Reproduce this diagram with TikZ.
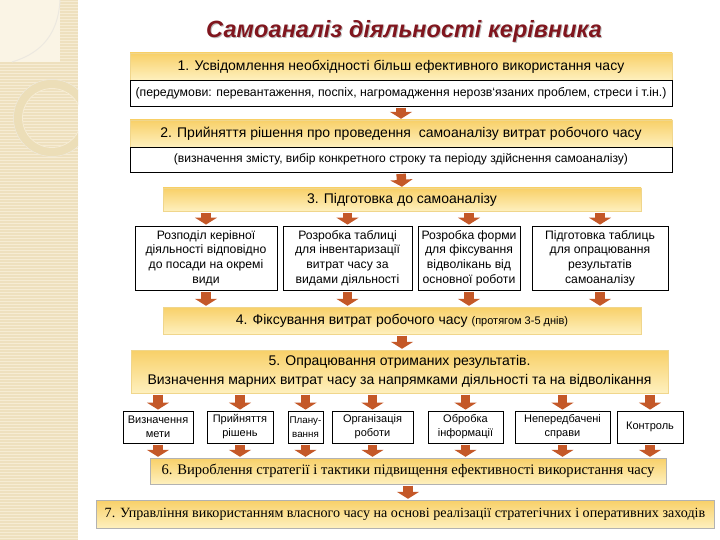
\documentclass[tikz,border=0pt]{standalone}
\usepackage{fontspec}
\setmainfont{Liberation Serif}
\setsansfont{Liberation Sans}
\usetikzlibrary{arrows.meta,calc}

\begin{document}
\begin{tikzpicture}[x=1pt,y=-1pt,
  goldbox/.style={rectangle,top color=goldtop,bottom color=goldbot,draw=goldedge,
    line width=0.4pt,inner sep=0pt,align=center,font=\sffamily\fontsize{14}{16}\selectfont},
  notebox/.style={rectangle,fill=white,draw=black,line width=0.8pt,inner sep=0pt,
    align=center,font=\sffamily\fontsize{12.2}{14.8}\selectfont},
  smallbox/.style={notebox,font=\sffamily\fontsize{11}{14}\selectfont},
  fatarrow/.style={draw=arrowcol,line width=9.5pt,-{Triangle[width=22pt,length=7pt]},
    shorten <=1.5pt,shorten >=1pt}
]

  % Define colors
  \definecolor{goldtop}{RGB}{248,208,104}
  \definecolor{goldbot}{RGB}{254,240,190}
  \definecolor{goldedge}{RGB}{240,214,140}
  \definecolor{arrowcol}{RGB}{196,88,40}
  \definecolor{titlecol}{RGB}{128,22,30}
  \definecolor{stripbg}{RGB}{238,224,190}
  \definecolor{stripline}{RGB}{246,236,212}
  \definecolor{ringcol}{RGB}{236,222,184}

  \useasboundingbox (0,0) rectangle (720,540);
  \fill[white] (0,0) rectangle (720,540);

  % decorative strip on the left
  \begin{scope}
    \clip (0,0) rectangle (78,540);
    \fill[stripbg] (0,0) rectangle (78,540);
    \foreach \y in {1.5,4.5,...,540}
      \draw[stripline,line width=0.9pt] (0,\y) -- (78,\y);
    \fill[stripline!60!white] (0,0) rectangle (60,62);
    \draw[stripbg!80!black!30!white,line width=1pt] (60,0) .. controls (58,40) and (35,55) .. (12,62);
    \draw[ringcol,line width=9pt] (52,118) circle (34);
    \draw[stripbg!90!black!40!white,line width=0.5pt] (52,118) circle (38.5);
    \draw[stripline,line width=0.8pt] (52,118) circle (29.5);
  \end{scope}

  % title with shadow
  \node[font=\sffamily\bfseries\itshape\fontsize{23.5}{26}\selectfont,text=black!25]
    (titleshadow) at (405,32) {Самоаналіз діяльності керівника};
  \node[font=\sffamily\bfseries\itshape\fontsize{23.5}{26}\selectfont,text=titlecol]
    (title) at (404,31) {Самоаналіз діяльності керівника};

  % stage 1 and 2
  \node[goldbox,minimum width=542,minimum height=27] (stage1) at (401,66.5)
    {1. Усвідомлення необхідності більш ефективного використання часу};
  \node[notebox,font=\sffamily\fontsize{12.3}{14}\selectfont,minimum width=542,minimum height=26]
    (note1) at (401,93)
    {(передумови: перевантаження, поспіх, нагромадження нерозв`язаних проблем, стреси і т.ін.)};
  \node[goldbox,minimum width=542,minimum height=27] (stage2) at (401,133.5)
    {2. Прийняття рішення про проведення \ самоаналізу витрат робочого часу};
  \node[notebox,font=\sffamily\fontsize{12.1}{14}\selectfont,minimum width=542,minimum height=25]
    (note2) at (401,159.5)
    {(визначення змісту, вибір конкретного строку та періоду здійснення самоаналізу)};

  % stage 3 with its four tasks
  \node[goldbox,minimum width=478,minimum height=23] (stage3) at (402,199.5)
    {3. Підготовка до самоаналізу};
  \node[notebox,minimum width=142,minimum height=64] (prepa) at (206,258)
    {Розподіл керівної\\діяльності відповідно\\до посади на окремі\\види};
  \node[notebox,minimum width=129,minimum height=64] (prepb) at (347.5,258)
    {Розробка таблиці\\для інвентаризації\\витрат часу за\\видами діяльності};
  \node[notebox,minimum width=102,minimum height=64] (prepc) at (469,258)
    {Розробка форми\\для фіксування\\відволікань від\\основної роботи};
  \node[notebox,minimum width=136,minimum height=64] (prepd) at (600,258)
    {Підготовка таблиць\\для опрацювання\\результатів\\самоаналізу};

  % stage 4 and 5
  \node[goldbox,minimum width=478,minimum height=27] (stage4) at (402,320.5)
    {4. Фіксування витрат робочого часу {\fontsize{11}{12}\selectfont(протягом 3-5 днів)}};
  \node[goldbox,font=\sffamily\fontsize{14}{19}\selectfont,minimum width=537,minimum height=43]
    (stage5) at (399.5,371.5)
    {5. Опрацювання отриманих результатів.\\Визначення марних витрат часу за напрямками діяльності та на відволікання};

  % areas of activity
  \node[smallbox,minimum width=70,minimum height=32] (area1) at (158,427) {Визначення\\мети};
  \node[smallbox,minimum width=66,minimum height=32] (area2) at (240,427) {Прийняття\\рішень};
  \node[smallbox,font=\sffamily\fontsize{9.8}{14}\selectfont,minimum width=35,minimum height=32]
    (area3) at (305.5,427) {Плану-\\вання};
  \node[smallbox,minimum width=81,minimum height=32] (area4) at (372.5,427) {Організація\\роботи};
  \node[smallbox,minimum width=75,minimum height=32] (area5) at (465.5,427) {Обробка\\інформації};
  \node[smallbox,minimum width=95,minimum height=32] (area6) at (562.5,427) {Непередбачені\\справи};
  \node[smallbox,minimum width=66,minimum height=32] (area7) at (650,427) {Контроль};

  % stage 6 and 7
  \node[goldbox,draw=black!30,font=\rmfamily\fontsize{14.6}{16}\selectfont,
    minimum width=516,minimum height=26] (stage6) at (408,471)
    {6. Вироблення стратегії і тактики підвищення ефективності використання часу};
  \node[goldbox,draw=black!30,font=\rmfamily\fontsize{14.1}{16}\selectfont,
    minimum width=618,minimum height=28] (stage7) at (405,514)
    {7. Управління використанням власного часу на основі реалізації стратегічних і оперативних заходів};

  % arrows between stages
  \draw[fatarrow] (note1.south) -- (stage2.north);
  \draw[fatarrow] (note2.south) -- (stage3.north);
  \foreach \b in {prepa,prepb,prepc,prepd} {
    \draw[fatarrow] (stage3.south -| \b) -- (\b.north);
    \draw[fatarrow] (\b.south) -- (\b.south |- stage4.north);
  }
  \draw[fatarrow] (stage4.south) -- (stage5.north -| stage4.south);
  \foreach \b in {area1,area2,area3,area4,area5,area6,area7} {
    \draw[fatarrow] (stage5.south -| \b) -- (\b.north);
    \draw[fatarrow] (\b.south) -- (\b.south |- stage6.north);
  }
  \draw[fatarrow] (stage6.south) -- (stage7.north -| stage6.south);

\end{tikzpicture}
\end{document}
